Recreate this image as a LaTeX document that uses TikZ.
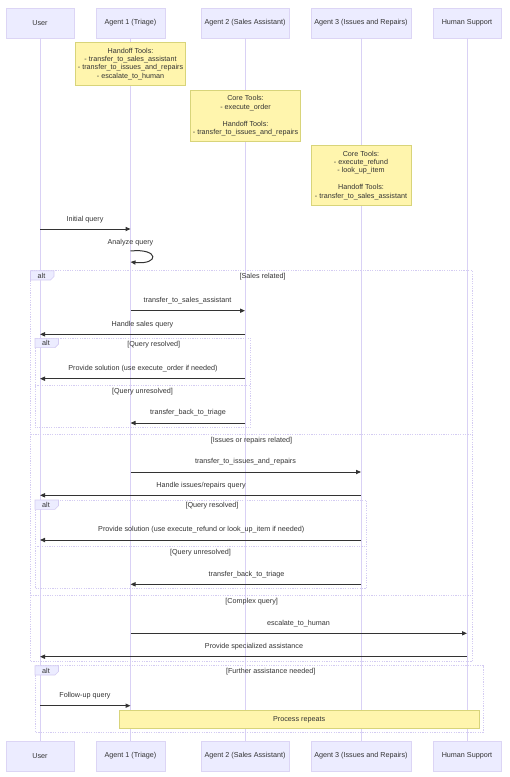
\documentclass[tikz,border=0pt]{standalone}
\usepackage{fontspec}
\setmainfont{Liberation Sans}
\usetikzlibrary{arrows.meta}
\definecolor{actfill}{HTML}{ECECFF}
\definecolor{actline}{HTML}{DCD5F5}
\definecolor{lifeln}{HTML}{D9D1F5}
\definecolor{notefill}{HTML}{FFF5AD}
\definecolor{noteline}{HTML}{D8D47A}
\definecolor{txt}{HTML}{333333}
\definecolor{frameln}{HTML}{D4CCF2}
\tikzset{
  actor/.style={draw=actline, fill=actfill, line width=0.8pt, minimum height=30pt, inner sep=0pt, text=txt, font=\fontsize{7.2}{8.4}\selectfont},
  notebox/.style={draw=noteline, fill=notefill, line width=0.9pt, inner sep=0pt, align=center, text=txt, font=\fontsize{7.2}{8.4}\selectfont},
  lifeline/.style={draw=lifeln, line width=1pt},
  msg/.style={draw=txt, line width=1pt, -{Triangle[length=5pt,width=4.2pt]}},
  lbl/.style={text=txt, font=\fontsize{7.2}{8.4}\selectfont, inner sep=0pt},
  frame/.style={draw=frameln, line width=0.8pt, dash pattern=on 1.2pt off 1.2pt},
  tab/.style={draw=frameln, fill=actfill, line width=0.6pt},
}
\begin{document}
\begin{tikzpicture}[x=1pt,y=-1pt]
\useasboundingbox (0,0) rectangle (510,777);
% actors top
\node[actor, minimum width=68pt] (tU) at (40,23) {User};
\node[actor, minimum width=69pt] (tA) at (130.5,23) {Agent 1 (Triage)};
\node[actor, minimum width=88pt] (tB) at (245,23) {Agent 2 (Sales Assistant)};
\node[actor, minimum width=100pt] (tC) at (361,23) {Agent 3 (Issues and Repairs)};
\node[actor, minimum width=68pt] (tH) at (467,23) {Human Support};
% actors bottom
\node[actor, minimum width=68pt] (bU) at (40,756) {User};
\node[actor, minimum width=69pt] (bA) at (130.5,756) {Agent 1 (Triage)};
\node[actor, minimum width=88pt] (bB) at (245,756) {Agent 2 (Sales Assistant)};
\node[actor, minimum width=100pt] (bC) at (361,756) {Agent 3 (Issues and Repairs)};
\node[actor, minimum width=68pt] (bH) at (467,756) {Human Support};
% lifelines
\begin{scope}[on background layer/.try]
\end{scope}
\draw[lifeline] (tU.south) -- (bU.north);
\draw[lifeline] (tA.south) -- (bA.north);
\draw[lifeline] (tB.south) -- (bB.north);
\draw[lifeline] (tC.south) -- (bC.north);
\draw[lifeline] (tH.south) -- (bH.north);
% notes
\node[notebox, minimum width=110pt, minimum height=43.5pt] (n1) at (130.5,63.75)
 {Handoff Tools:\\- transfer\_to\_sales\_assistant\\- transfer\_to\_issues\_and\_repairs\\- escalate\_to\_human};
\node[notebox, minimum width=110pt, minimum height=51.7pt] (n2) at (245.5,115.8)
 {Core Tools:\\- execute\_order\\[8.4pt]Handoff Tools:\\- transfer\_to\_issues\_and\_repairs};
\node[notebox, minimum width=100pt, minimum height=59.5pt] (n3) at (361,175.25)
 {Core Tools:\\- execute\_refund\\- look\_up\_item\\[8.4pt]Handoff Tools:\\- transfer\_to\_sales\_assistant};
% frames
\draw[frame] (30.5,270.7) rectangle (472.5,661.3);
\draw[frame] (30.5,434.3) -- (472.5,434.3);
\draw[frame] (30.5,595) -- (472.5,595);
\draw[frame] (35,338.3) rectangle (250.5,427.7);
\draw[frame] (35,385.3) -- (250.5,385.3);
\draw[frame] (35,500) rectangle (366.5,588.3);
\draw[frame] (35,546.7) -- (366.5,546.7);
\draw[frame] (35,665.7) rectangle (483.3,732);
% alt tabs
\draw[tab] (30.5,270.7) -- (54,270.7) -- (54,276.5) -- (50.5,280) -- (30.5,280) -- cycle;
\node[lbl] (alt1) at (41.5,275.6) {alt};
\draw[tab] (35,338.3) -- (58.5,338.3) -- (58.5,344.1) -- (55,347.6) -- (35,347.6) -- cycle;
\node[lbl] (alt2) at (46,343.2) {alt};
\draw[tab] (35,500) -- (58.5,500) -- (58.5,505.8) -- (55,509.3) -- (35,509.3) -- cycle;
\node[lbl] (alt3) at (46,504.9) {alt};
\draw[tab] (35,665.7) -- (58.5,665.7) -- (58.5,671.5) -- (55,675) -- (35,675) -- cycle;
\node[lbl] (alt4) at (46,670.6) {alt};
% conditions
\node[lbl] (c1) at (262.7,277) {[Sales related]};
\node[lbl] (c2) at (153.8,345) {[Query resolved]};
\node[lbl] (c3) at (142.5,391.7) {[Query unresolved]};
\node[lbl] (c4) at (251.5,440.7) {[Issues or repairs related]};
\node[lbl] (c5) at (212,505.7) {[Query resolved]};
\node[lbl] (c6) at (200.5,552.7) {[Query unresolved]};
\node[lbl] (c7) at (251.7,601.7) {[Complex query]};
\node[lbl] (c8) at (270.7,671.7) {[Further assistance needed]};
% messages
\draw[msg] (tU |- 0,229) -- (tA |- 0,229);
\node[lbl] at (85,219.5) {Initial query};
\node[lbl] at (130.5,242.7) {Analyze query};
\draw[msg] (tA |- 0,251) .. controls (159.5,248) and (159.5,265) .. (tA |- 0,262);
\draw[msg] (tA |- 0,310.7) -- (tB |- 0,310.7);
\node[lbl] at (187.5,300.5) {transfer\_to\_sales\_assistant};
\draw[msg] (tB |- 0,334.3) -- (tU |- 0,334.3);
\node[lbl] at (142.5,324.7) {Handle sales query};
\draw[msg] (tB |- 0,378.7) -- (tU |- 0,378.7);
\node[lbl] at (143,368.3) {Provide solution (use execute\_order if needed)};
\draw[msg] (tB |- 0,423) -- (tA |- 0,423);
\node[lbl] at (188,412.3) {transfer\_back\_to\_triage};
\draw[msg] (tA |- 0,472) -- (tC |- 0,472);
\node[lbl] at (245.5,461.7) {transfer\_to\_issues\_and\_repairs};
\draw[msg] (tC |- 0,495.3) -- (tU |- 0,495.3);
\node[lbl] at (201,485.7) {Handle issues/repairs query};
\draw[msg] (tC |- 0,540) -- (tU |- 0,540);
\node[lbl] at (201.3,529.3) {Provide solution (use execute\_refund or look\_up\_item if needed)};
\draw[msg] (tC |- 0,584.3) -- (tA |- 0,584.3);
\node[lbl] at (246.5,574.3) {transfer\_back\_to\_triage};
\draw[msg] (tA |- 0,633.3) -- (tH |- 0,633.3);
\node[lbl] at (298.5,623.3) {escalate\_to\_human};
\draw[msg] (tH |- 0,656.7) -- (tU |- 0,656.7);
\node[lbl] at (254,646.3) {Provide specialized assistance};
\draw[msg] (tU |- 0,705.7) -- (tA |- 0,705.7);
\node[lbl] at (85,695.7) {Follow-up query};
% process repeats note
\node[notebox, minimum width=359.7pt, minimum height=17.6pt] (n4) at (299.15,719.5) {Process repeats};
\end{tikzpicture}
\end{document}
